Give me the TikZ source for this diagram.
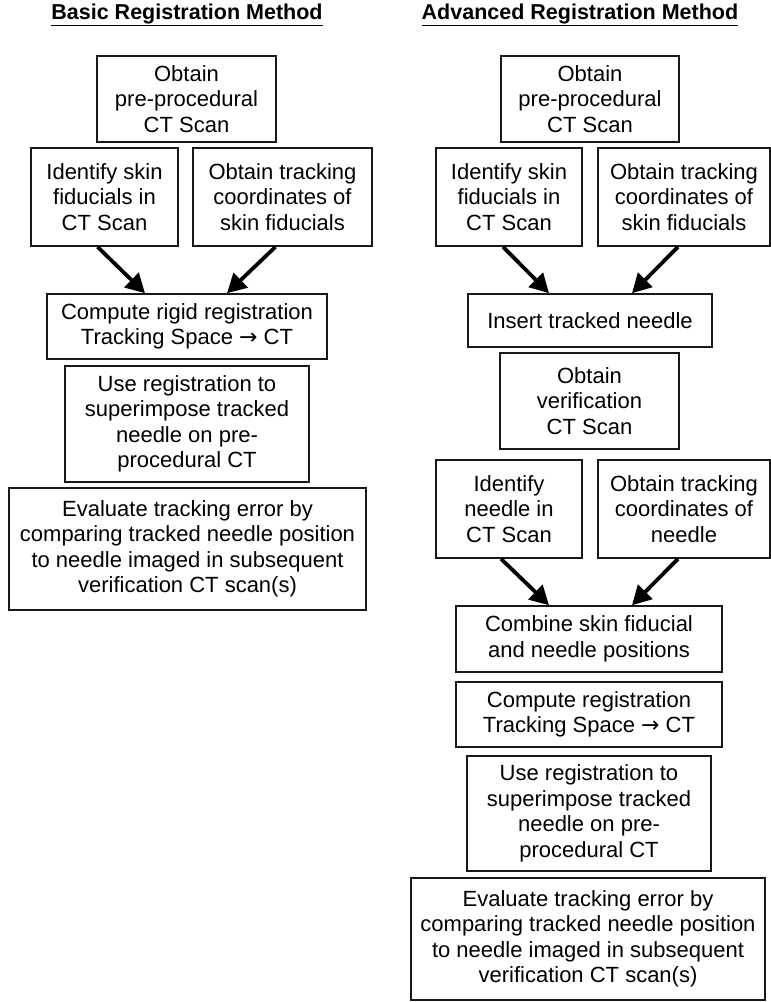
\documentclass[tikz,border=0pt]{standalone}
\usepackage{fontspec}
\setmainfont{Liberation Sans}
\newfontfamily\arrowfont{DejaVu Sans}
\usetikzlibrary{arrows.meta}
\definecolor{boxline}{rgb}{0.1,0.1,0.1}
\newcommand{\toarrow}{{\arrowfont →}}
\tikzset{
  stepbox/.style={draw=boxline, line width=1.6pt, align=center, inner sep=0pt,
    font=\fontsize{22}{25.5}\selectfont},
  flowarrow/.style={line width=3.8pt, -{Triangle[length=19pt, width=20pt]}},
  headline/.style={font=\fontsize{21.5}{24}\selectfont\bfseries}
}
\begin{document}
\begin{tikzpicture}[x=1pt,y=-1pt]
\useasboundingbox (0,0) rectangle (771,1002);
% titles
\node[headline] (tl) at (187,15) {\underline{Basic Registration Method}};
\node[headline] (tr) at (580,15) {\underline{Advanced Registration Method}};
% basic method
\node[stepbox, minimum width=179, minimum height=86] (l1) at (186.5,99) {Obtain\\pre-procedural\\CT Scan};
\node[stepbox, minimum width=147, minimum height=98] (l2) at (104.5,197) {Identify skin\\fiducials in\\CT Scan};
\node[stepbox, minimum width=179, minimum height=98] (l3) at (282.5,197) {Obtain tracking\\coordinates of\\skin fiducials};
\node[stepbox, minimum width=280, minimum height=65] (l4) at (187,326.5) {Compute rigid registration\\Tracking Space \toarrow{} CT};
\node[stepbox, minimum width=244, minimum height=116] (l5) at (187,424) {Use registration to\\superimpose tracked\\needle on pre-\\procedural CT};
\node[stepbox, minimum width=357, minimum height=122] (l6) at (187.5,549) {Evaluate tracking error by\\comparing tracked needle position\\to needle imaged in subsequent\\verification CT scan(s)};
\draw[flowarrow] ([xshift=-7pt]l2.south) -- ([xshift=-42pt]l4.north);
\draw[flowarrow] ([xshift=-7pt]l3.south) -- ([xshift=40pt]l4.north);
% advanced method
\node[stepbox, minimum width=178, minimum height=86] (r1) at (590,99) {Obtain\\pre-procedural\\CT Scan};
\node[stepbox, minimum width=146, minimum height=98] (r2) at (509,197) {Identify skin\\fiducials in\\CT Scan};
\node[stepbox, minimum width=172, minimum height=98] (r3) at (684,197) {Obtain tracking\\coordinates of\\skin fiducials};
\node[stepbox, minimum width=244, minimum height=53] (r4) at (590,320.5) {Insert tracked needle};
\node[stepbox, minimum width=179, minimum height=96] (r5) at (589.5,401) {Obtain\\verification\\CT Scan};
\node[stepbox, minimum width=146, minimum height=98] (r6) at (509,509) {Identify\\needle in\\CT Scan};
\node[stepbox, minimum width=172, minimum height=98] (r7) at (684,509) {Obtain tracking\\coordinates of\\needle};
\node[stepbox, minimum width=266, minimum height=66] (r8) at (589,639) {Combine skin fiducial\\and needle positions};
\node[stepbox, minimum width=266, minimum height=65] (r9) at (589,714.5) {Compute registration\\Tracking Space \toarrow{} CT};
\node[stepbox, minimum width=244, minimum height=115] (r10) at (589,813.5) {Use registration to\\superimpose tracked\\needle on pre-\\procedural CT};
\node[stepbox, minimum width=354, minimum height=122] (r11) at (588,939) {Evaluate tracking error by\\comparing tracked needle position\\to needle imaged in subsequent\\verification CT scan(s)};
\draw[flowarrow] ([xshift=-6pt]r2.south) -- ([xshift=-41pt]r4.north);
\draw[flowarrow] ([xshift=-6pt]r3.south) -- ([xshift=42pt]r4.north);
\draw[flowarrow] ([xshift=-8pt]r6.south) -- ([xshift=-40pt]r8.north);
\draw[flowarrow] ([xshift=-6pt]r7.south) -- ([xshift=43pt]r8.north);
\end{tikzpicture}
\end{document}
